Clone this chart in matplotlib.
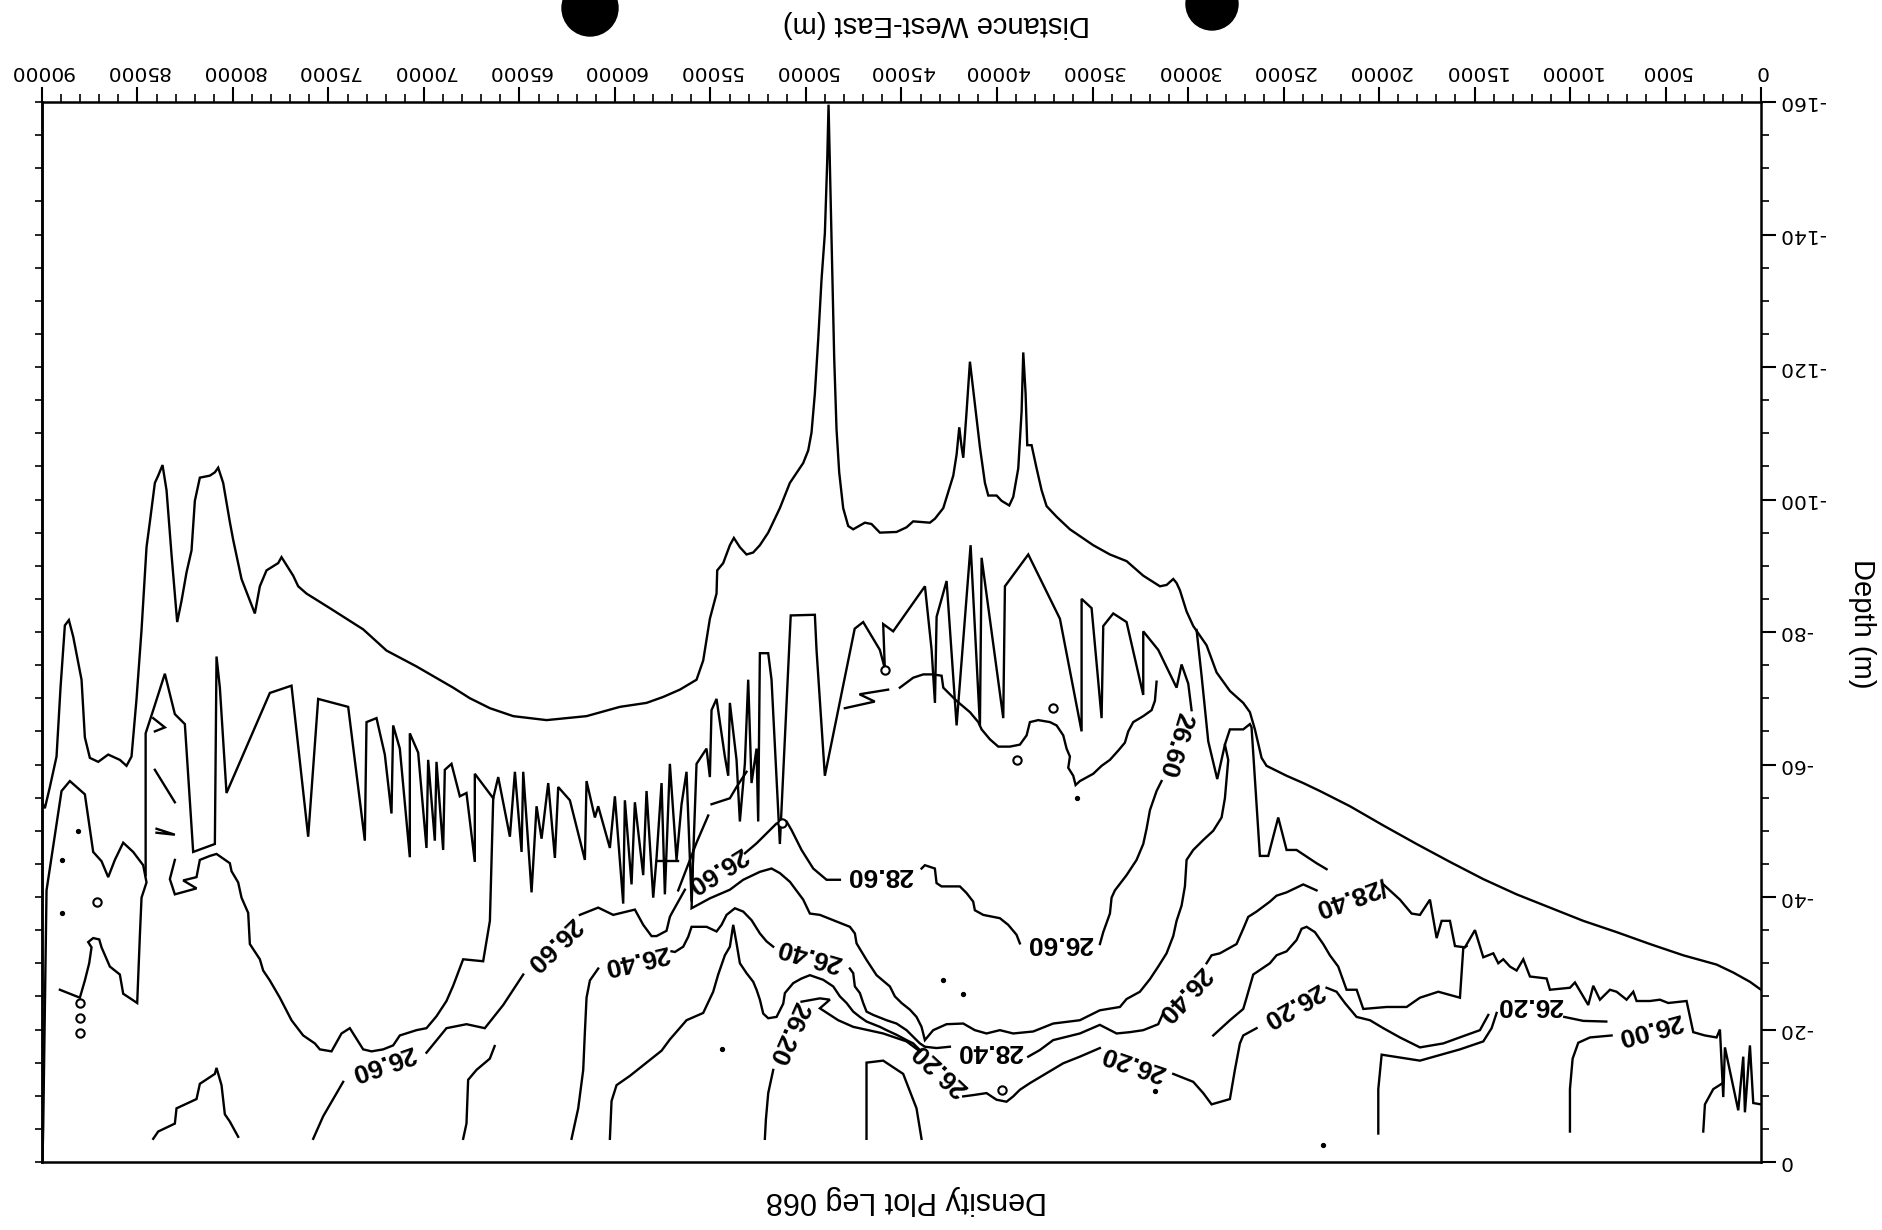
import matplotlib
matplotlib.use("Agg")
import matplotlib.pyplot as plt
from matplotlib.patches import Ellipse
from matplotlib.ticker import MultipleLocator

plt.rcParams['font.family'] = ['Liberation Sans', 'DejaVu Sans']
plt.rcParams['axes.unicode_minus'] = False

# ---- traced polylines: (distance west-east [m], depth [m]) ----
outer = [(0, -26.0), (580, -27.2), (1452, -28.6), (2325, -29.8), (4070, -31.2), (5815, -32.9),
         (7560, -34.7), (9305, -36.4), (11050, -38.4), (12795, -40.4), (14540, -42.7), (16285, -45.3),
         (18030, -48.0), (19775, -50.8), (21520, -53.7), (23094, -56.0), (23967, -57.2), (24839, -58.3),
         (25887, -59.8), (26148, -61.0), (26497, -65.3), (26759, -67.9), (27108, -69.3), (27806, -71.1),
         (28504, -73.9), (29028, -78.0), (29725, -80.9), (30074, -83.1), (30423, -86.3), (30598, -87.4),
         (30772, -88.0), (31121, -87.1), (31470, -86.9), (32343, -88.5), (33216, -90.7), (34088, -91.7),
         (34961, -93.1), (36182, -95.5), (36880, -97.4), (37404, -99.0), (37665, -101.4), (37927, -104.7),
         (38189, -108.2), (38416, -108.2), (38503, -116.0), (38625, -122.2), (38712, -113.3), (38887, -104.7),
         (39149, -100.4), (39358, -99.1), (39759, -99.8), (40021, -100.6), (40457, -100.6), (40632, -102.5),
         (40894, -107.9), (41155, -114.4), (41417, -120.8), (41592, -113.3), (41766, -106.3), (41853, -107.9),
         (41975, -110.9), (42115, -106.8), (42290, -103.6), (42813, -98.7), (43249, -97.1), (43515, -96.5),
         (44388, -96.7), (44737, -95.8), (45261, -95.1), (46133, -95.0), (46570, -96.3), (46919, -96.5),
         (47530, -95.5), (47791, -96.0), (48053, -98.7), (48262, -104.1), (48402, -110.6), (48524, -121.4),
         (48629, -134.8), (48751, -151.0), (48820, -159.6), (48890, -151.0), (49012, -140.2), (49187, -133.2),
         (49362, -124.1), (49536, -116.0), (49711, -110.1), (49885, -107.4), (50147, -105.5), (50845, -102.5),
         (51368, -98.7), (51979, -95.0), (52415, -93.1), (52765, -92.0), (53114, -91.7), (53462, -92.8),
         (53777, -94.2), (53986, -93.1), (54335, -90.4), (54649, -89.3), (54684, -85.8), (55033, -82.0),
         (55295, -77.3), (55382, -75.7), (55731, -72.8), (56603, -71.3), (57476, -70.2), (58349, -69.3),
         (59745, -68.7), (61490, -67.3), (63584, -66.7), (65329, -67.3), (66550, -68.5), (67597, -70.0),
         (68474, -71.6), (70393, -74.8), (71964, -77.2), (73185, -80.4), (74930, -83.6), (76151, -85.8),
         (76587, -86.9), (76849, -88.5), (77198, -90.1), (77460, -91.3), (77634, -90.4), (78245, -89.3),
         (78594, -86.9), (78856, -82.8), (79554, -88.0), (79990, -93.9), (80165, -96.6), (80514, -102.5),
         (80776, -104.8), (80950, -104.1), (81212, -103.6), (81735, -103.3), (81997, -99.8), (82172, -92.3),
         (82433, -89.0), (82695, -84.7), (82922, -81.5), (83219, -91.7), (83480, -101.4), (83690, -105.2),
         (83917, -103.6), (84091, -102.5), (84353, -96.6), (84528, -92.8), (84789, -80.3), (85051, -69.9),
         (85313, -61.2), (85575, -59.8), (85924, -60.7), (86534, -61.5), (87057, -60.4), (87494, -61.0),
         (87756, -64.1), (87930, -72.8), (88366, -79.3), (88593, -81.8), (88803, -81.0), (89030, -71.6),
         (89239, -61.2), (89588, -56.6), (89850, -53.4), (90000, -54.3)]

zigzag = [(84574, -43.3), (84574, -64.7), (84178, -68.2), (83568, -73.7), (83044, -67.6), (82521, -66.1),
          (82085, -46.8), (80950, -48.0), (80863, -76.3), (80688, -71.6), (80340, -55.7), (78071, -70.8),
          (76937, -71.9), (76064, -49.1), (75541, -69.9), (73970, -68.7), (73098, -48.5), (73010, -66.4),
          (72487, -67.0), (72051, -61.5), (71702, -52.6), (71615, -65.9), (71266, -62.4), (70742, -46.0),
          (70742, -64.7), (70306, -61.8), (69870, -47.4), (69782, -60.7), (69433, -48.5), (69346, -60.4),
          (68997, -47.1), (68910, -59.2), (68561, -60.1), (68124, -55.2), (67776, -55.7), (67340, -45.3),
          (67340, -58.6), (66376, -54.9), (66114, -58.1), (65503, -49.1), (65241, -58.9), (64892, -46.8),
          (64805, -58.9), (64369, -40.7), (64107, -53.7), (63845, -48.8), (63496, -57.2), (63147, -45.9),
          (62973, -56.6), (62362, -54.6), (61577, -45.6), (61490, -57.5), (61053, -52.0), (60879, -53.7),
          (60268, -47.4), (60006, -55.2), (59570, -39.0), (59483, -54.6), (59134, -41.9), (58959, -54.3),
          (58523, -43.3), (58349, -56.0), (57999, -39.9), (57825, -45.9), (57563, -57.2), (57389, -40.4),
          (57127, -60.1), (56778, -45.6), (56516, -54.0), (56255, -58.9), (55993, -39.3), (55731, -60.1),
          (55208, -62.4), (55033, -58.1), (54946, -68.2), (54684, -69.9), (54248, -61.2), (54073, -58.3),
          (53986, -69.3), (53637, -60.7), (53462, -51.4), (53201, -60.1), (53026, -72.8), (52852, -57.2),
          (52590, -62.4), (52503, -51.4), (52415, -76.8), (51979, -76.8), (51805, -72.8), (51368, -48.0),
          (50800, -82.5), (49536, -82.6), (49449, -77.3), (49013, -58.3), (47450, -80.5), (47006, -81.5),
          (46133, -77.3), (45873, -74.5), (45959, -81.2), (45436, -80.1), (43773, -86.9), (43424, -77.3),
          (43249, -69.3), (43162, -82.3), (42639, -87.7), (42115, -65.9), (41382, -93.1), (40894, -65.9),
          (40806, -91.2), (39672, -67.0), (39585, -86.9), (38363, -91.7), (36706, -82.0), (35571, -65.0),
          (35571, -85.0), (35048, -83.6), (34524, -67.0), (34437, -80.9), (33914, -82.8), (33216, -81.5),
          (32343, -70.5), (32343, -80.1), (31558, -77.3), (30598, -71.6), (30336, -75.1), (29987, -72.2),
          (29813, -68.2)]

u_line = [(83044, -45.6), (83306, -42.7), (83044, -40.4), (81910, -41.3), (82608, -42.5), (81910, -43.0),
          (81736, -45.6), (81212, -46.2), (80863, -46.5), (80165, -45.1), (80078, -43.9), (79729, -42.2),
          (79554, -39.9), (79205, -37.6), (79118, -32.9), (78594, -30.6), (78420, -28.9), (78071, -27.4),
          (77547, -24.8), (76937, -21.4), (76326, -19.1), (75715, -17.9), (75454, -17.0), (74843, -16.7),
          (74319, -19.4), (73883, -20.2), (73447, -18.2), (73185, -17.0), (72749, -16.7), (72138, -17.0),
          (71615, -17.6), (71266, -19.1), (70393, -19.9), (69870, -20.2), (69346, -22.0), (68823, -24.3),
          (68474, -26.6), (67950, -30.6), (66903, -30.3), (66550, -36.4), (66376, -54.9)]

left_shape = [(89972, -0.5), (89937, -5.2), (89763, -41.0), (88977, -56.0), (88541, -57.5), (87756, -55.5),
              (87320, -46.8), (86883, -45.4), (86534, -43.0), (86185, -45.6), (85749, -48.2), (85226, -46.8),
              (84702, -44.8), (84528, -42.2), (84789, -39.9), (84877, -34.1), (85016, -24.0), (85749, -25.4),
              (85924, -28.3), (86447, -29.5), (86883, -32.4), (87005, -33.6), (87320, -33.8), (87582, -33.2),
              (87407, -32.4), (87529, -30.0), (87756, -27.4), (88018, -24.8), (88541, -25.4), (89064, -26.0)]

mid_upper = [(45087, -71.6), (44388, -73.1), (43860, -73.6), (43337, -73.6), (42900, -73.4), (42813, -71.6),
             (42115, -69.6), (41417, -67.9), (40981, -66.4), (40806, -65.3), (40370, -63.8), (39934, -62.7),
             (39323, -62.7), (38800, -63.0), (38450, -64.4), (38276, -66.4), (37840, -66.7), (37229, -66.4),
             (36880, -65.9), (36531, -64.4), (36357, -62.4), (36182, -61.2), (36269, -59.5), (36008, -58.3),
             (35885, -56.9), (35658, -57.5), (34961, -58.6), (34524, -59.8), (34088, -60.7), (33652, -62.1),
             (33303, -63.3), (33128, -65.0), (32867, -66.4), (32343, -67.3), (31907, -68.2), (31733, -69.6),
             (31645, -72.5)]

# 26.60 contour, split where labels sit
c2660 = [
    [(75802, -3.5), (75279, -6.9), (74232, -12.1)],
    [(69870, -16.5), (68823, -20.2), (67776, -20.8), (66816, -20.2), (65852, -23.7), (64805, -28.3)],
    [(61839, -37.3), (60879, -38.4), (60093, -37.3), (58959, -38.1), (58523, -35.8), (58087, -34.1),
     (57825, -34.1), (57302, -34.9), (57127, -37.0), (57038, -37.5), (56340, -41.1)],
    [(53199, -46.6), (52589, -48.1), (52065, -49.6), (51542, -51.1), (51018, -51.4), (50756, -50.1),
     (50233, -47.1), (49622, -44.3), (48924, -42.6), (48226, -42.6)],
    [(43950, -44.3), (43776, -44.8), (43253, -44.3), (43165, -42.1), (42904, -41.6), (41944, -41.6),
     (41595, -40.6), (41246, -39.3), (41159, -38.0), (40722, -37.3), (39850, -36.8), (39414, -35.8),
     (38977, -34.3), (38803, -33.0)],
    [(34612, -32.9), (34437, -34.7), (34088, -37.5), (34001, -39.9), (33827, -41.0), (33216, -43.3),
     (32692, -45.6), (32343, -48.0), (32169, -50.3), (31994, -53.1), (31645, -56.0), (31384, -57.5)],
]

# 26.40 chain
c2640 = [
    [(62275, -3.5), (61926, -8.1), (61664, -13.9), (61577, -19.6), (61490, -24.8), (61315, -27.4), (60879, -29.2)],
    [(57040, -31.8), (56864, -31.7), (56428, -32.5), (56166, -34.0), (55991, -35.5), (55206, -35.5),
     (54683, -34.8), (54421, -35.8), (54159, -37.3), (53723, -38.3), (53287, -37.8), (52850, -36.5),
     (52589, -35.3), (52414, -34.5), (52065, -33.3), (51716, -32.5)],
    [(47703, -29.2), (47528, -28.5), (47441, -26.5), (47179, -25.5), (47005, -24.0), (46830, -22.7),
     (46481, -22.2), (45783, -21.4), (45260, -20.9), (44736, -19.9), (44387, -18.9), (44038, -17.9),
     (43776, -17.4), (43165, -17.2), (42467, -17.4)],
    [(38367, -15.9), (37756, -16.9), (37058, -18.4), (36360, -18.9), (35662, -19.4), (34615, -20.7),
     (33739, -19.4), (33041, -19.6), (32343, -19.9), (31558, -20.8), (31296, -22.5)],
    [(29028, -30.0), (28766, -31.2), (28330, -31.5), (27458, -32.9), (27108, -35.2), (26846, -37.0),
     (26410, -37.8), (25712, -39.3), (25363, -40.2), (24839, -40.7), (23967, -41.9), (23269, -41.0)],
    [(19775, -41.9), (18903, -39.6), (18292, -37.5), (17856, -37.3), (17332, -39.6),
     (16983, -33.8), (16721, -36.4), (16285, -36.4), (16023, -32.6), (15500, -32.4), (14976, -35.0),
     (14540, -30.9), (14016, -31.5), (13755, -30.0), (13493, -30.6), (13144, -29.5), (12795, -28.9),
     (12446, -30.6), (12097, -28.0), (11225, -27.7), (11050, -26.0), (10003, -26.3), (9741, -27.1),
     (9044, -23.7), (8782, -26.6), (8433, -24.5), (7909, -26.0), (7560, -25.7), (7037, -24.5),
     (6687, -25.7), (6513, -24.3), (5815, -24.3), (5292, -24.5), (4856, -24.0), (3896, -24.3),
     (3547, -19.6), (2936, -19.1), (2325, -18.8), (2150, -20.0), (1976, -9.8), (1889, -17.3),
     (1191, -7.8), (929, -15.9), (842, -7.5), (580, -17.6), (405, -8.9), (0, -8.7)],
]

upper_2640 = [(55904, -47.1), (55991, -38.3), (55031, -39.8), (53985, -41.1), (53287, -42.6), (52414, -43.8),
              (51803, -44.3), (51367, -43.6), (50844, -42.3), (50146, -39.6), (49797, -37.5), (49273, -37.3),
              (48575, -36.5), (47703, -35.5), (47441, -34.5), (47353, -33.0), (46830, -30.5), (46307, -28.2),
              (45609, -26.5), (45347, -25.0), (44998, -24.0), (44562, -23.0), (44213, -21.9), (43951, -20.4),
              (43776, -18.4), (43340, -19.9), (42642, -20.8), (41769, -20.9), (41159, -19.9), (40548, -19.4),
              (39850, -19.9), (39152, -19.4), (38105, -19.7), (37058, -20.9), (35662, -21.4), (34615, -22.9),
              (33564, -23.4), (33216, -24.6), (32518, -25.7), (31994, -27.6), (31558, -29.5), (31122, -31.5),
              (30773, -34.1), (30598, -36.4), (30336, -38.7), (30162, -41.6), (30074, -45.6), (29725, -47.1),
              (29202, -48.6), (28678, -50.0), (28242, -52.0), (28068, -54.9), (27893, -60.7), (28068, -63.0),
              (27806, -65.3), (27108, -65.3), (26759, -66.1), (26672, -65.6), (26236, -46.2), (25799, -46.2),
              (25276, -52.0), (24839, -47.1), (24316, -47.1), (23269, -45.1), (22745, -44.2)]

v_notch = [(29551, -80.3), (29289, -73.4), (28940, -63.5), (28469, -57.8), (28068, -63.0)]

# 26.20 family
c2620_q = [(60268, -3.5), (60181, -9.2), (59919, -11.6), (59221, -13.0), (58349, -15.0), (57563, -16.8),
           (57127, -18.5), (56255, -21.4), (55382, -22.5), (54859, -25.7), (54597, -28.3), (54248, -31.2),
           (53985, -32.5), (53810, -35.8), (53636, -33.0), (53461, -30.0), (53112, -28.5), (52763, -27.2),
           (52589, -26.0), (52414, -24.5), (52240, -22.4), (51978, -21.7), (51542, -21.9), (51192, -23.9),
           (51105, -25.5), (50669, -27.0), (50233, -27.7), (49797, -28.2), (49099, -27.5), (48575, -26.5),
           (48226, -25.0), (47877, -24.0), (47528, -22.7), (47179, -21.9), (46830, -21.2), (46132, -20.4),
           (45783, -19.9), (45260, -19.2), (44736, -18.4), (44387, -17.9), (44038, -16.9)]
c2620_r = [
    [(52154, -3.5), (52100, -6.4), (51978, -10.4), (51716, -13.9)],
    [(50233, -24.2), (49273, -24.7), (48750, -24.5), (49273, -23.2), (48313, -21.4), (47528, -20.4),
     (45958, -19.4), (44736, -18.2), (44038, -16.7)],
    [(41769, -9.9), (41246, -10.1), (40548, -10.4), (40024, -9.4), (39501, -9.1), (39152, -9.9),
     (38803, -10.9), (38279, -11.9), (37407, -13.4), (36534, -14.9), (35662, -15.9), (34615, -17.2)],
    [(30773, -13.3), (29725, -12.1), (29202, -10.4), (28766, -8.7), (27806, -9.5), (27545, -13.9),
     (27283, -17.9), (27108, -19.1), (26410, -20.2)],
    [(22745, -26.3), (22222, -25.7), (21786, -24.0), (21175, -21.9), (20473, -21.4), (19775, -20.2),
     (18903, -18.8), (17856, -17.3), (16634, -17.9), (15587, -19.0), (14715, -19.9), (14278, -22.2)],
    [(10300, -21.9), (9305, -21.3), (8100, -21.2)],
]
c2620_low = [(20037, -4.3), (20037, -11.0), (19862, -16.2), (17856, -15.3), (15762, -17.0), (14540, -18.2),
             (14104, -20.2), (13842, -22.5)]
peak_line = [(28678, -19.1), (27806, -21.4), (27108, -23.1), (26933, -24.8), (26584, -28.3), (25712, -30.0),
             (25363, -31.2), (24839, -31.8), (24316, -33.5), (24054, -35.2), (23792, -35.5), (23356, -34.7),
             (22920, -32.9), (22571, -31.2), (22135, -29.5), (21699, -26.0), (21171, -26.0), (20822, -23.1),
             (19601, -23.4), (18554, -23.4), (17856, -24.8), (16896, -25.7), (15762, -24.8), (15587, -32.3),
             (15414, -32.6)]
c2600 = [(10003, -4.6), (10003, -11.0), (9863, -15.6), (9567, -18.0), (8956, -18.8), (7822, -19.1)]

bottom_a = [(67950, -3.5), (67776, -5.8), (67689, -12.4), (67253, -13.9), (66554, -15.6), (66300, -17.5)]
bump = [(84178, -3.5), (83917, -4.6), (83044, -5.8), (82957, -8.1), (81910, -9.5), (81736, -11.8),
        (80950, -13.3), (80863, -14.2), (80601, -11.6), (80427, -7.2), (80165, -6.1), (79729, -3.8)]
hump = [(46832, -3.5), (46832, -15.0), (45959, -15.3), (44912, -13.3), (44214, -8.1), (43952, -3.5)]
corner = [(3023, -4.6), (2936, -8.7), (2500, -11.0), (2063, -11.8)]

fragments = [
    [(84091, -65.0), (83568, -65.6), (84178, -67.0)],
    [(84091, -59.2), (83044, -54.3)],
    [(84004, -50.3), (83044, -49.4), (84004, -49.7)],
    [(56691, -41.0), (55731, -48.2), (55120, -52.3)],
    [(54946, -54.0), (53986, -54.9), (53637, -56.6), (53113, -58.9)],
    [(57738, -45.4), (56691, -45.4)],
    [(47966, -68.5), (46400, -69.5), (47200, -70.6), (45700, -71.3)],
]
rings = [(88018, -24.0), (88018, -21.7), (88018, -19.4), (87145, -39.3), (37055, -68.5),
         (38974, -60.7), (45873, -74.2), (51280, -51.1), (39763, -10.9)]
dots = [(88105, -50.0), (88977, -45.6), (88977, -37.6), (42813, -27.4), (41766, -25.4),
        (31732, -10.7), (22920, -2.6), (54422, -17.0), (35833, -54.9)]

# contour labels: (x, depth, text, rotation)
labels = [(72138, -15.0, "26.60", 199), (63235, -32.9, "26.60", 224), (54683, -44.1, "26.60", 212),
          (46132, -43.3, "28.60", 180), (36709, -33.0, "26.60", 180), (30685, -63.0, "26.60", 253),
          (58872, -30.6, "26.40", 193), (49797, -31.3, "26.40", 164), (40374, -16.7, "28.40", 180),
          (30249, -25.4, "26.40", 227), (21500, -40.0, "/28.40", 200),
          (42991, -13.9, "26.20", 137), (50931, -19.4, "26.20", 246), (32866, -15.0, "26.20", 161),
          (24490, -23.7, "26.20", 210), (12097, -23.7, "26.20", 180), (5815, -20.2, "26.00", 195)]

x_ticks = list(range(0, 90001, 5000))
y_ticks = list(range(-160, 1, 20))

# ---- figure ----
W, H = 1882, 1230
fig = plt.figure(figsize=(W / 100, H / 100), dpi=100)
ax = fig.add_axes([42 / W, 68 / H, 1719 / W, 1060 / H])
ax.set_xlim(90000, 0)
ax.set_ylim(0, -160)

LW = 1.7
def line(pts, lw=LW):
    xs, ys = zip(*pts)
    ax.plot(xs, ys, color='black', lw=lw, solid_joinstyle='miter')

for pts in [outer, zigzag, u_line, left_shape, mid_upper, upper_2640, v_notch, c2620_q,
            c2620_low, peak_line, c2600, bottom_a, bump, hump, corner]:
    line(pts)
for group in [c2660, c2640, c2620_r, fragments]:
    for pts in group:
        line(pts)

rx, ry = zip(*rings)
ax.plot(rx, ry, 'o', ms=6, mfc='white', mec='black', mew=1.5)
dx, dy = zip(*dots)
ax.plot(dx, dy, 'o', ms=2.8, color='black')

for x, y, s, r in labels:
    ax.text(x, y, s, rotation=r, rotation_mode='anchor', ha='center', va='center',
            fontsize=19, fontweight='bold', color='black')

# axes styling: page is scanned upside down
ax.xaxis.tick_top()
ax.set_xticks(x_ticks)
ax.set_xticklabels([str(v) for v in x_ticks], rotation=180, fontsize=14.5, family='DejaVu Sans')
ax.xaxis.set_minor_locator(MultipleLocator(1000))
ax.tick_params(axis='x', which='major', direction='out', length=11, width=1.5, pad=4, top=True, bottom=False)
ax.tick_params(axis='x', which='minor', direction='out', length=6, width=1.2, top=True, bottom=False)

ax.yaxis.tick_right()
ax.set_yticks(y_ticks)
ax.set_yticklabels([str(v) for v in y_ticks], rotation=180, fontsize=14.5, family='DejaVu Sans', va='center')
ax.yaxis.set_minor_locator(MultipleLocator(5))
ax.tick_params(axis='y', which='major', direction='out', length=11, width=1.5, pad=2, right=True, left=False)
ax.tick_params(axis='y', which='minor', direction='out', length=6, width=1.2, right=True, left=False)

sec = ax.secondary_yaxis('left')
sec.set_yticks(list(range(-160, 1, 5)))
sec.tick_params(direction='out', length=5, width=1.2, labelleft=False)
sec.spines['left'].set_linewidth(1.8)

for sp in ax.spines.values():
    sp.set_linewidth(1.8)

fig.text(936 / W, 1 - 24 / H, "Distance West-East (m)", rotation=180, ha='center', va='center', fontsize=21)
fig.text(906 / W, 1 - 1200 / H, "Density Plot Leg 068", rotation=180, ha='center', va='center', fontsize=22)
fig.text(1862 / W, 1 - 624 / H, "Depth (m)", rotation=270, ha='center', va='center', fontsize=21)

# punch holes at the top edge of the scan
for cx, cy, r in [(590, 8, 28), (1212, 4, 26)]:
    fig.add_artist(Ellipse((cx / W, 1 - cy / H), 2 * r / W, 2 * r / H, transform=fig.transFigure,
                           color='black', clip_on=False))

fig.savefig("out.png", dpi=100)
